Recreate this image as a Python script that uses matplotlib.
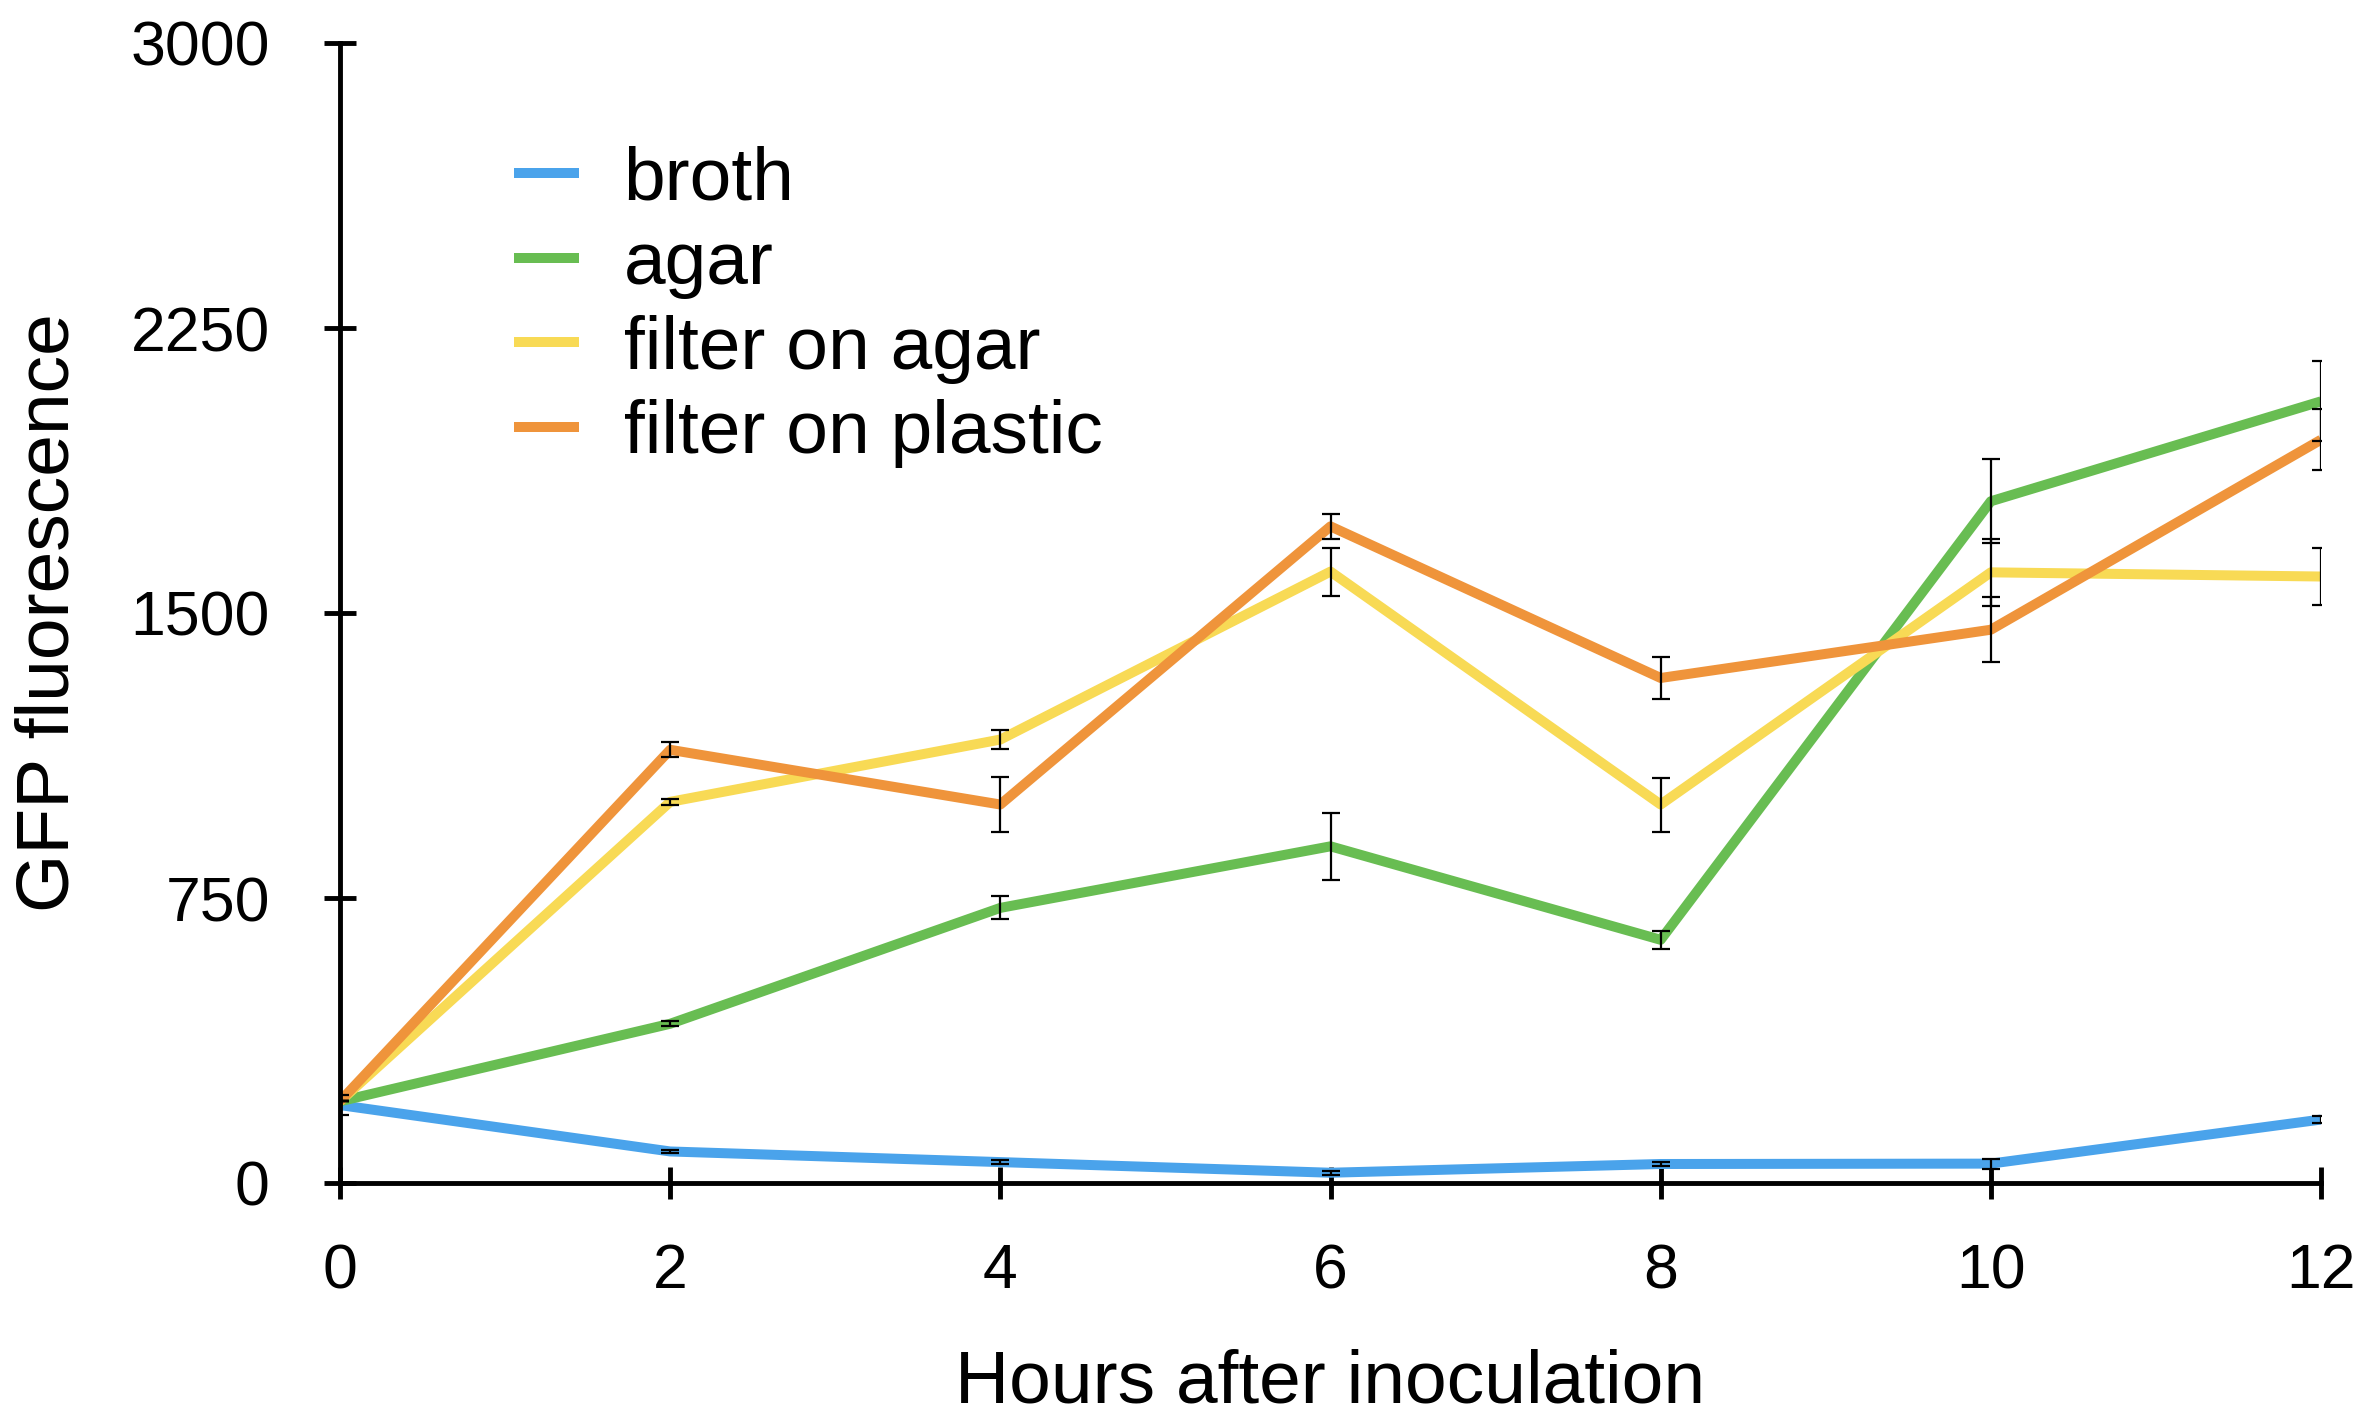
import matplotlib
matplotlib.use('Agg')
import matplotlib.pyplot as plt

# dados
horas = [0, 2, 4, 6, 8, 10, 12]

broth = [205, 83, 55, 27, 50, 51, 167]
broth_err = [27, 5, 5, 5, 5, 13, 10]

agar = [215, 419, 724, 886, 640, 1794, 2057]
agar_err = [0, 7, 30, 88, 23, 110, 105]

filter_agar = [215, 1003, 1167, 1609, 996, 1607, 1596]
filter_agar_err = [0, 8, 26, 63, 71, 88, 74]

filter_plastic = [215, 1140, 996, 1728, 1329, 1456, 1956]
filter_plastic_err = [0, 20, 72, 32, 56, 86, 80]

nomes = ['broth', 'agar', 'filter on agar', 'filter on plastic']
cores = ['#4aa3eb', '#68bd52', '#f8da55', '#ef943b']
series = [broth, agar, filter_agar, filter_plastic]
erros = [broth_err, agar_err, filter_agar_err, filter_plastic_err]

plt.rcParams['font.family'] = ['Liberation Sans', 'DejaVu Sans']

fig = plt.figure(figsize=(23.72, 14.19), dpi=100)
ax = fig.add_axes([340 / 2372, 1 - 1183 / 1419, (2321 - 340) / 2372, (1183 - 43) / 1419])

for nome, cor, ys in zip(nomes, cores, series):
    ax.plot(horas, ys, color=cor, lw=7.2, label=nome, zorder=2, solid_capstyle='butt')

for ys, err in zip(series, erros):
    ax.errorbar(horas, ys, yerr=err, fmt='none', ecolor='black', elinewidth=1.6,
                capsize=6.5, capthick=1.6, zorder=3)

ax.set_xlim(0, 12)
ax.set_ylim(0, 3000)
ax.set_xticks(horas)
ax.set_yticks([0, 750, 1500, 2250, 3000])

for s in ['top', 'right']:
    ax.spines[s].set_visible(False)
for s in ['left', 'bottom']:
    ax.spines[s].set_linewidth(3.5)

ax.tick_params(axis='both', direction='inout', length=23, width=3.5, labelsize=45)
ax.tick_params(axis='y', pad=39)
ax.tick_params(axis='x', pad=31)

ax.set_xlabel('Hours after inoculation', fontsize=54, labelpad=34)
ax.set_ylabel('GFP fluorescence', fontsize=54, labelpad=34)

leg = ax.legend(loc='upper left', bbox_to_anchor=(514 / 2372, 1 - 145 / 1419),
                bbox_transform=fig.transFigure, frameon=False, fontsize=54,
                handlelength=0.87, handletextpad=0.59, labelspacing=0.21,
                borderpad=0, borderaxespad=0)
for linha in leg.get_lines():
    linha.set_linewidth(7.2)

fig.savefig('out.png', dpi=100)
